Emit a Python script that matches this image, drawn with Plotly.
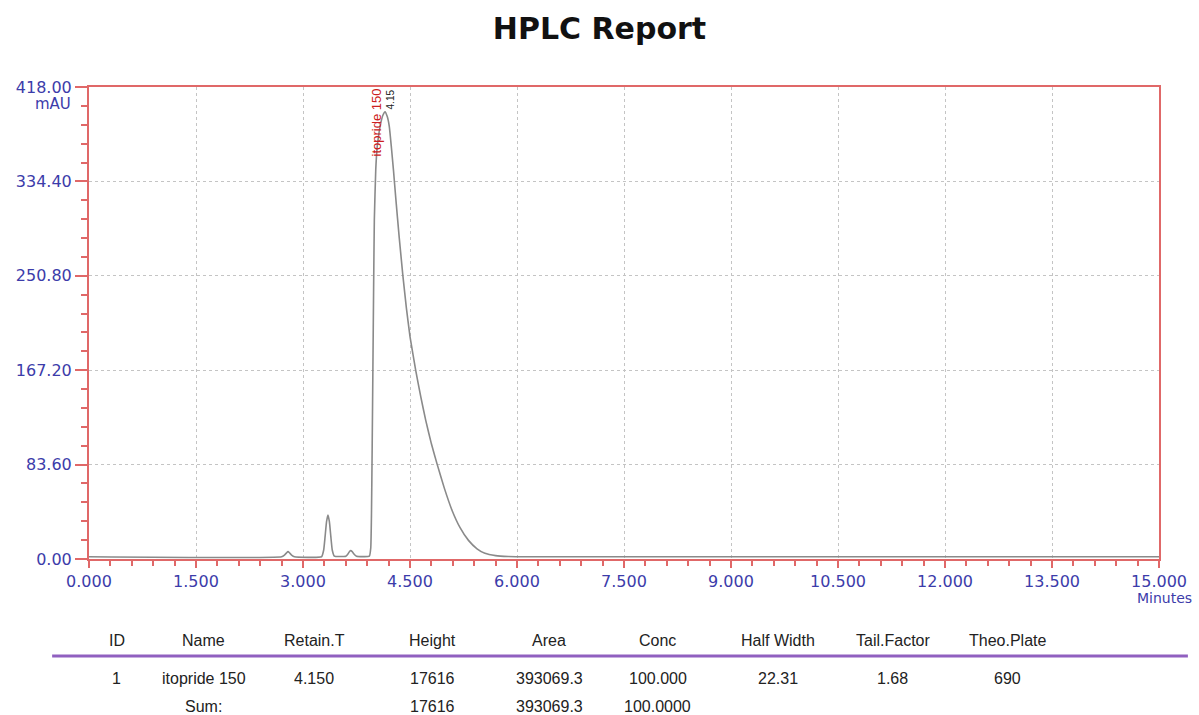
import plotly.graph_objects as go

# ---- Chromatogram data (time in minutes, signal in mAU) ----
time_min = [0.0, 2.70, 2.74, 2.77, 2.79, 2.81, 2.84, 2.88,
            3.26, 3.29, 3.31, 3.33, 3.35, 3.37, 3.39, 3.41, 3.44,
            3.60, 3.63, 3.65, 3.67, 3.69, 3.72, 3.75,
            3.93, 3.95, 3.96, 3.97, 3.98, 3.99, 4.00, 4.02, 4.04, 4.06, 4.09, 4.12, 4.15,
            4.18, 4.21, 4.24, 4.27, 4.30, 4.35, 4.40, 4.45, 4.50, 4.58, 4.65, 4.72, 4.80,
            4.88, 4.98, 5.09, 5.20, 5.32, 5.44, 5.55, 5.70, 5.88, 6.05, 15.0]
signal_mau = [2.0, 2.0, 3.5, 5.5, 6.5, 5.5, 3.5, 2.0,
              2.0, 8.0, 20.0, 33.0, 39.0, 33.0, 20.0, 8.0, 2.5,
              2.5, 4.5, 6.5, 7.5, 6.5, 4.0, 2.5,
              2.5, 10.0, 40.0, 100.0, 170.0, 240.0, 300.0, 345.0, 365.0, 375.0, 386.0, 393.0, 396.0,
              392.0, 383.0, 364.0, 343.0, 320.0, 284.0, 251.0, 222.0, 197.0, 167.0, 144.0, 123.0, 102.0,
              84.0, 63.0, 43.0, 28.0, 16.5, 9.0, 5.0, 3.0, 2.2, 2.0, 2.0]

x_ticks = [0.0, 1.5, 3.0, 4.5, 6.0, 7.5, 9.0, 10.5, 12.0, 13.5, 15.0]
y_ticks = [0.0, 83.6, 167.2, 250.8, 334.4, 418.0]

peak_name = "itopride 150"
peak_rt_label = "4.15"
peak_label_pos = (4.03, 387)
peak_rt_pos = (4.22, 407)

# ---- Results table ----
table_headers = ["ID", "Name", "Retain.T", "Height", "Area", "Conc", "Half Width", "Tail.Factor", "Theo.Plate"]
table_row1 = ["1", "itopride 150", "4.150", "17616", "393069.3", "100.000", "22.31", "1.68", "690"]
table_sum = ["", "Sum:", "", "17616", "393069.3", "100.0000", "", "", ""]

W, H = 1199, 715
L, R, T, B = 89, 1163, 87, 559
RED = "#e06868"
BLUE = "#3c3caa"
FONT = "Liberation Sans, Arial, sans-serif"
WIDE = "DejaVu Sans, Verdana, sans-serif"


def px_to_paper(px, py):
    return (px - L) / (R - L), (B - py) / (B - T)


fig = go.Figure()
fig.add_trace(go.Scatter(x=time_min, y=signal_mau, mode="lines",
                         line=dict(color="#8a8a8a", width=1.6, shape="spline", smoothing=0.4),
                         showlegend=False, hoverinfo="skip"))

fig.update_layout(
    width=W, height=H,
    margin=dict(l=L, r=W - R, t=T, b=H - B, pad=0),
    paper_bgcolor="white", plot_bgcolor="white",
    font=dict(family=FONT),
    title=dict(text="<b>HPLC Report</b>", x=0.5, xanchor="center", y=1 - 28 / H, yanchor="middle",
               yref="container", font=dict(size=30, color="#111111", family=WIDE)),
    xaxis=dict(range=[0, 15], tickvals=x_ticks, ticktext=[f"{v:.3f}" for v in x_ticks],
               showline=True, mirror=True, linecolor=RED, linewidth=2,
               ticks="outside", ticklen=7, tickcolor=RED, tickwidth=1.5,
               minor=dict(tickmode="linear", tick0=0, dtick=0.3, ticks="outside", ticklen=5,
                          tickcolor=RED, tickwidth=1.5, showgrid=False),
               showgrid=True, gridcolor="#c4c4c4", griddash="dot", gridwidth=1,
               zeroline=False, tickfont=dict(size=16, color=BLUE, family=WIDE)),
    yaxis=dict(range=[0, 418], tickvals=y_ticks, ticktext=[f"{v:.2f}" for v in y_ticks],
               showline=True, mirror=True, linecolor=RED, linewidth=2,
               ticks="outside", ticklen=12, tickcolor=RED, tickwidth=1.5,
               minor=dict(tickmode="linear", tick0=0, dtick=16.72, ticks="outside", ticklen=6,
                          tickcolor=RED, tickwidth=1.5, showgrid=False),
               showgrid=True, gridcolor="#c4c4c4", griddash="dot", gridwidth=1,
               zeroline=False, tickfont=dict(size=16, color=BLUE, family=WIDE)),
)

ann = []
# axis unit labels
x0, y0 = px_to_paper(73, 104)
ann.append(dict(text="mAU", x=x0, y=y0, xref="paper", yref="paper", xanchor="right", yanchor="middle",
                showarrow=False, font=dict(size=15, color=BLUE, family=WIDE)))
x0, y0 = px_to_paper(1198, 598)
ann.append(dict(text="Minutes", x=x0, y=y0, xref="paper", yref="paper", xanchor="right", yanchor="middle",
                showarrow=False, font=dict(size=14, color=BLUE, family=WIDE)))
# peak labels
ann.append(dict(text=peak_name, x=peak_label_pos[0], y=peak_label_pos[1], xref="x", yref="y",
                textangle=-90, showarrow=False, font=dict(size=13, color="#cc2020", family=FONT)))
ann.append(dict(text=peak_rt_label, x=peak_rt_pos[0], y=peak_rt_pos[1], xref="x", yref="y",
                textangle=-90, showarrow=False, font=dict(size=10, color="#222222", family=FONT)))

# table
col_px = [117, 204, 315, 434, 551, 660, 781, 896, 1011]
for row, py in ((table_headers, 640), (table_row1, 678), (table_sum, 706)):
    for txt, cx in zip(row, col_px):
        if not txt:
            continue
        xp, yp = px_to_paper(cx, py)
        ann.append(dict(text=txt, x=xp, y=yp, xref="paper", yref="paper", xanchor="center",
                        yanchor="middle", showarrow=False, font=dict(size=16, color="#222222", family=FONT)))
fig.update_layout(annotations=ann)

lx0, ly = px_to_paper(52, 656)
lx1, _ = px_to_paper(1192, 656)
fig.add_shape(type="line", xref="paper", yref="paper", x0=lx0, x1=lx1, y0=ly, y1=ly,
              line=dict(color="#9060c0", width=3))

fig.write_html("out.html", config={"displayModeBar": False},
               post_script="document.body.style.margin='0px';document.body.style.overflow='hidden';")
